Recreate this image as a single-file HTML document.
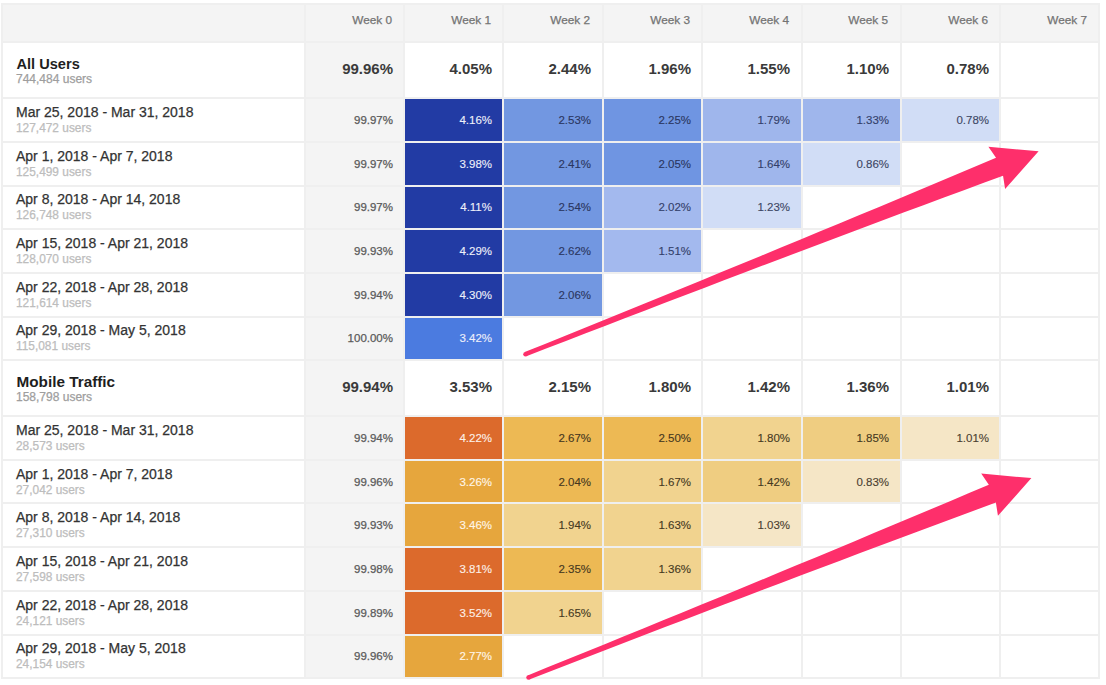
<!DOCTYPE html>
<html><head><meta charset="utf-8"><style>
html,body{margin:0;padding:0;background:#fff;}
body{width:1106px;height:685px;position:relative;overflow:hidden;font-family:"Liberation Sans",sans-serif;}
div{position:absolute;}
.r{text-align:right;white-space:nowrap;-webkit-text-stroke:0.25px currentColor;}
.l{white-space:nowrap;-webkit-text-stroke:0.25px currentColor;}
.hd{font-size:11.8px;color:#737373;}
.tot{font-size:15px;font-weight:bold;color:#3a3a3a;-webkit-text-stroke:0;}
.gl{font-size:14.8px;font-weight:bold;color:#1e1e1e;-webkit-text-stroke:0;}
.gu{font-size:12px;color:#9e9e9e;}
.dl{font-size:14px;color:#333;}
.du{font-size:11.9px;color:#bdbdbd;}
.w0{font-size:11.5px;color:#5a5a5a;}
.v{font-size:11.5px;-webkit-text-stroke:0.12px currentColor;}
</style></head><body>

<div style="left:1px;top:3px;width:1097px;height:38px;background:#f4f4f4"></div>
<div style="left:304px;top:41px;width:99px;height:636px;background:#f4f4f4"></div>
<div style="left:405px;top:99px;width:97px;height:42px;background:#223ba4"></div>
<div style="left:504px;top:99px;width:98px;height:42px;background:#7297e1"></div>
<div style="left:604px;top:99px;width:97px;height:42px;background:#6f95e2"></div>
<div style="left:703px;top:99px;width:98px;height:42px;background:#9fb6ec"></div>
<div style="left:803px;top:99px;width:97px;height:42px;background:#9fb6ec"></div>
<div style="left:902px;top:99px;width:97px;height:42px;background:#d1ddf6"></div>
<div style="left:405px;top:143px;width:97px;height:42px;background:#223ba4"></div>
<div style="left:504px;top:143px;width:98px;height:42px;background:#7297e1"></div>
<div style="left:604px;top:143px;width:97px;height:42px;background:#6f95e2"></div>
<div style="left:703px;top:143px;width:98px;height:42px;background:#9fb6ec"></div>
<div style="left:803px;top:143px;width:97px;height:42px;background:#d1ddf6"></div>
<div style="left:405px;top:187px;width:97px;height:41px;background:#223ba4"></div>
<div style="left:504px;top:187px;width:98px;height:41px;background:#7297e1"></div>
<div style="left:604px;top:187px;width:97px;height:41px;background:#a3b9ee"></div>
<div style="left:703px;top:187px;width:98px;height:41px;background:#d1ddf6"></div>
<div style="left:405px;top:230px;width:97px;height:42px;background:#223ba4"></div>
<div style="left:504px;top:230px;width:98px;height:42px;background:#7297e1"></div>
<div style="left:604px;top:230px;width:97px;height:42px;background:#a3b9ee"></div>
<div style="left:405px;top:274px;width:97px;height:42px;background:#223ba4"></div>
<div style="left:504px;top:274px;width:98px;height:42px;background:#7297e1"></div>
<div style="left:405px;top:318px;width:97px;height:41px;background:#4b7be0"></div>
<div style="left:405px;top:417px;width:97px;height:42px;background:#dc6a2c"></div>
<div style="left:504px;top:417px;width:98px;height:42px;background:#edb954"></div>
<div style="left:604px;top:417px;width:97px;height:42px;background:#edb954"></div>
<div style="left:703px;top:417px;width:98px;height:42px;background:#f1d38f"></div>
<div style="left:803px;top:417px;width:97px;height:42px;background:#efcd81"></div>
<div style="left:902px;top:417px;width:97px;height:42px;background:#f5e6c6"></div>
<div style="left:405px;top:461px;width:97px;height:41px;background:#e6a63d"></div>
<div style="left:504px;top:461px;width:98px;height:41px;background:#edb954"></div>
<div style="left:604px;top:461px;width:97px;height:41px;background:#f1d38f"></div>
<div style="left:703px;top:461px;width:98px;height:41px;background:#efcd81"></div>
<div style="left:803px;top:461px;width:97px;height:41px;background:#f5e6c6"></div>
<div style="left:405px;top:504px;width:97px;height:42px;background:#e6a63d"></div>
<div style="left:504px;top:504px;width:98px;height:42px;background:#f1d38f"></div>
<div style="left:604px;top:504px;width:97px;height:42px;background:#f1d38f"></div>
<div style="left:703px;top:504px;width:98px;height:42px;background:#f5e6c6"></div>
<div style="left:405px;top:548px;width:97px;height:42px;background:#dc6a2c"></div>
<div style="left:504px;top:548px;width:98px;height:42px;background:#edb954"></div>
<div style="left:604px;top:548px;width:97px;height:42px;background:#f1d38f"></div>
<div style="left:405px;top:592px;width:97px;height:42px;background:#dc6a2c"></div>
<div style="left:504px;top:592px;width:98px;height:42px;background:#f1d38f"></div>
<div style="left:405px;top:636px;width:97px;height:41px;background:#e6a63d"></div>
<div style="left:1px;top:3px;width:1099px;height:2px;background:#efefef"></div>
<div style="left:1px;top:41px;width:1099px;height:2px;background:#efefef"></div>
<div style="left:1px;top:97px;width:1099px;height:2px;background:#efefef"></div>
<div style="left:1px;top:141px;width:1099px;height:2px;background:#efefef"></div>
<div style="left:1px;top:185px;width:1099px;height:2px;background:#efefef"></div>
<div style="left:1px;top:228px;width:1099px;height:2px;background:#efefef"></div>
<div style="left:1px;top:272px;width:1099px;height:2px;background:#efefef"></div>
<div style="left:1px;top:316px;width:1099px;height:2px;background:#efefef"></div>
<div style="left:1px;top:359px;width:1099px;height:2px;background:#efefef"></div>
<div style="left:1px;top:415px;width:1099px;height:2px;background:#efefef"></div>
<div style="left:1px;top:459px;width:1099px;height:2px;background:#efefef"></div>
<div style="left:1px;top:502px;width:1099px;height:2px;background:#efefef"></div>
<div style="left:1px;top:546px;width:1099px;height:2px;background:#efefef"></div>
<div style="left:1px;top:590px;width:1099px;height:2px;background:#efefef"></div>
<div style="left:1px;top:634px;width:1099px;height:2px;background:#efefef"></div>
<div style="left:1px;top:677px;width:1099px;height:2px;background:#efefef"></div>
<div style="left:1px;top:3px;width:2px;height:676px;background:#efefef"></div>
<div style="left:304px;top:3px;width:2px;height:676px;background:#efefef"></div>
<div style="left:403px;top:3px;width:2px;height:676px;background:#efefef"></div>
<div style="left:502px;top:3px;width:2px;height:676px;background:#efefef"></div>
<div style="left:602px;top:3px;width:2px;height:676px;background:#efefef"></div>
<div style="left:701px;top:3px;width:2px;height:676px;background:#efefef"></div>
<div style="left:801px;top:3px;width:2px;height:676px;background:#efefef"></div>
<div style="left:900px;top:3px;width:2px;height:676px;background:#efefef"></div>
<div style="left:999px;top:3px;width:2px;height:676px;background:#efefef"></div>
<div style="left:1098px;top:3px;width:2px;height:676px;background:#efefef"></div>
<div class="r hd" style="left:304px;width:88px;top:12.5px;line-height:14px">Week 0</div>
<div class="r hd" style="left:404px;width:87px;top:12.5px;line-height:14px">Week 1</div>
<div class="r hd" style="left:503px;width:87px;top:12.5px;line-height:14px">Week 2</div>
<div class="r hd" style="left:602px;width:88px;top:12.5px;line-height:14px">Week 3</div>
<div class="r hd" style="left:702px;width:87px;top:12.5px;line-height:14px">Week 4</div>
<div class="r hd" style="left:801px;width:87px;top:12.5px;line-height:14px">Week 5</div>
<div class="r hd" style="left:900px;width:88px;top:12.5px;line-height:14px">Week 6</div>
<div class="r hd" style="left:1000px;width:87px;top:12.5px;line-height:14px">Week 7</div>
<div class="l gl" style="left:16.5px;top:56px;line-height:16px;font-size:14.6px">All Users</div>
<div class="l gu" style="left:16px;top:73px;line-height:13px">744,484 users</div>
<div class="r tot" style="left:304px;width:89px;top:61px;line-height:16px">99.96%</div>
<div class="r tot" style="left:404px;width:88px;top:61px;line-height:16px">4.05%</div>
<div class="r tot" style="left:503px;width:88px;top:61px;line-height:16px">2.44%</div>
<div class="r tot" style="left:602px;width:89px;top:61px;line-height:16px">1.96%</div>
<div class="r tot" style="left:702px;width:88px;top:61px;line-height:16px">1.55%</div>
<div class="r tot" style="left:801px;width:88px;top:61px;line-height:16px">1.10%</div>
<div class="r tot" style="left:900px;width:89px;top:61px;line-height:16px">0.78%</div>
<div class="l dl" style="left:16px;top:105px;line-height:15px">Mar 25, 2018 - Mar 31, 2018</div>
<div class="l du" style="left:16px;top:122px;line-height:13px">127,472 users</div>
<div class="r w0" style="left:304px;width:89px;top:113px;line-height:14px">99.97%</div>
<div class="r v" style="left:404px;width:88px;top:113px;line-height:14px;color:#eef0fa">4.16%</div>
<div class="r v" style="left:503px;width:88px;top:113px;line-height:14px;color:#2a3660">2.53%</div>
<div class="r v" style="left:602px;width:89px;top:113px;line-height:14px;color:#2a3660">2.25%</div>
<div class="r v" style="left:702px;width:88px;top:113px;line-height:14px;color:#33406a">1.79%</div>
<div class="r v" style="left:801px;width:88px;top:113px;line-height:14px;color:#33406a">1.33%</div>
<div class="r v" style="left:900px;width:89px;top:113px;line-height:14px;color:#3c4664">0.78%</div>
<div class="l dl" style="left:16px;top:149px;line-height:15px">Apr 1, 2018 - Apr 7, 2018</div>
<div class="l du" style="left:16px;top:166px;line-height:13px">125,499 users</div>
<div class="r w0" style="left:304px;width:89px;top:157px;line-height:14px">99.97%</div>
<div class="r v" style="left:404px;width:88px;top:157px;line-height:14px;color:#eef0fa">3.98%</div>
<div class="r v" style="left:503px;width:88px;top:157px;line-height:14px;color:#2a3660">2.41%</div>
<div class="r v" style="left:602px;width:89px;top:157px;line-height:14px;color:#2a3660">2.05%</div>
<div class="r v" style="left:702px;width:88px;top:157px;line-height:14px;color:#33406a">1.64%</div>
<div class="r v" style="left:801px;width:88px;top:157px;line-height:14px;color:#3c4664">0.86%</div>
<div class="l dl" style="left:16px;top:192px;line-height:15px">Apr 8, 2018 - Apr 14, 2018</div>
<div class="l du" style="left:16px;top:209px;line-height:13px">126,748 users</div>
<div class="r w0" style="left:304px;width:89px;top:200px;line-height:14px">99.97%</div>
<div class="r v" style="left:404px;width:88px;top:200px;line-height:14px;color:#eef0fa">4.11%</div>
<div class="r v" style="left:503px;width:88px;top:200px;line-height:14px;color:#2a3660">2.54%</div>
<div class="r v" style="left:602px;width:89px;top:200px;line-height:14px;color:#33406a">2.02%</div>
<div class="r v" style="left:702px;width:88px;top:200px;line-height:14px;color:#3c4664">1.23%</div>
<div class="l dl" style="left:16px;top:236px;line-height:15px">Apr 15, 2018 - Apr 21, 2018</div>
<div class="l du" style="left:16px;top:253px;line-height:13px">128,070 users</div>
<div class="r w0" style="left:304px;width:89px;top:244px;line-height:14px">99.93%</div>
<div class="r v" style="left:404px;width:88px;top:244px;line-height:14px;color:#eef0fa">4.29%</div>
<div class="r v" style="left:503px;width:88px;top:244px;line-height:14px;color:#2a3660">2.62%</div>
<div class="r v" style="left:602px;width:89px;top:244px;line-height:14px;color:#33406a">1.51%</div>
<div class="l dl" style="left:16px;top:280px;line-height:15px">Apr 22, 2018 - Apr 28, 2018</div>
<div class="l du" style="left:16px;top:297px;line-height:13px">121,614 users</div>
<div class="r w0" style="left:304px;width:89px;top:288px;line-height:14px">99.94%</div>
<div class="r v" style="left:404px;width:88px;top:288px;line-height:14px;color:#eef0fa">4.30%</div>
<div class="r v" style="left:503px;width:88px;top:288px;line-height:14px;color:#2a3660">2.06%</div>
<div class="l dl" style="left:16px;top:323px;line-height:15px">Apr 29, 2018 - May 5, 2018</div>
<div class="l du" style="left:16px;top:340px;line-height:13px">115,081 users</div>
<div class="r w0" style="left:304px;width:89px;top:331px;line-height:14px">100.00%</div>
<div class="r v" style="left:404px;width:88px;top:331px;line-height:14px;color:#eef0fa">3.42%</div>
<div class="l gl" style="left:16.5px;top:374px;line-height:16px;font-size:15.3px">Mobile Traffic</div>
<div class="l gu" style="left:16px;top:391px;line-height:13px">158,798 users</div>
<div class="r tot" style="left:304px;width:89px;top:379px;line-height:16px">99.94%</div>
<div class="r tot" style="left:404px;width:88px;top:379px;line-height:16px">3.53%</div>
<div class="r tot" style="left:503px;width:88px;top:379px;line-height:16px">2.15%</div>
<div class="r tot" style="left:602px;width:89px;top:379px;line-height:16px">1.80%</div>
<div class="r tot" style="left:702px;width:88px;top:379px;line-height:16px">1.42%</div>
<div class="r tot" style="left:801px;width:88px;top:379px;line-height:16px">1.36%</div>
<div class="r tot" style="left:900px;width:89px;top:379px;line-height:16px">1.01%</div>
<div class="l dl" style="left:16px;top:423px;line-height:15px">Mar 25, 2018 - Mar 31, 2018</div>
<div class="l du" style="left:16px;top:440px;line-height:13px">28,573 users</div>
<div class="r w0" style="left:304px;width:89px;top:431px;line-height:14px">99.94%</div>
<div class="r v" style="left:404px;width:88px;top:431px;line-height:14px;color:#fdf0e8">4.22%</div>
<div class="r v" style="left:503px;width:88px;top:431px;line-height:14px;color:#45371e">2.67%</div>
<div class="r v" style="left:602px;width:89px;top:431px;line-height:14px;color:#45371e">2.50%</div>
<div class="r v" style="left:702px;width:88px;top:431px;line-height:14px;color:#45391f">1.80%</div>
<div class="r v" style="left:801px;width:88px;top:431px;line-height:14px;color:#45391f">1.85%</div>
<div class="r v" style="left:900px;width:89px;top:431px;line-height:14px;color:#4a4030">1.01%</div>
<div class="l dl" style="left:16px;top:467px;line-height:15px">Apr 1, 2018 - Apr 7, 2018</div>
<div class="l du" style="left:16px;top:484px;line-height:13px">27,042 users</div>
<div class="r w0" style="left:304px;width:89px;top:475px;line-height:14px">99.96%</div>
<div class="r v" style="left:404px;width:88px;top:475px;line-height:14px;color:#fff6e8">3.26%</div>
<div class="r v" style="left:503px;width:88px;top:475px;line-height:14px;color:#45371e">2.04%</div>
<div class="r v" style="left:602px;width:89px;top:475px;line-height:14px;color:#45391f">1.67%</div>
<div class="r v" style="left:702px;width:88px;top:475px;line-height:14px;color:#45391f">1.42%</div>
<div class="r v" style="left:801px;width:88px;top:475px;line-height:14px;color:#4a4030">0.83%</div>
<div class="l dl" style="left:16px;top:510px;line-height:15px">Apr 8, 2018 - Apr 14, 2018</div>
<div class="l du" style="left:16px;top:527px;line-height:13px">27,310 users</div>
<div class="r w0" style="left:304px;width:89px;top:518px;line-height:14px">99.93%</div>
<div class="r v" style="left:404px;width:88px;top:518px;line-height:14px;color:#fff6e8">3.46%</div>
<div class="r v" style="left:503px;width:88px;top:518px;line-height:14px;color:#45391f">1.94%</div>
<div class="r v" style="left:602px;width:89px;top:518px;line-height:14px;color:#45391f">1.63%</div>
<div class="r v" style="left:702px;width:88px;top:518px;line-height:14px;color:#4a4030">1.03%</div>
<div class="l dl" style="left:16px;top:554px;line-height:15px">Apr 15, 2018 - Apr 21, 2018</div>
<div class="l du" style="left:16px;top:571px;line-height:13px">27,598 users</div>
<div class="r w0" style="left:304px;width:89px;top:562px;line-height:14px">99.98%</div>
<div class="r v" style="left:404px;width:88px;top:562px;line-height:14px;color:#fdf0e8">3.81%</div>
<div class="r v" style="left:503px;width:88px;top:562px;line-height:14px;color:#45371e">2.35%</div>
<div class="r v" style="left:602px;width:89px;top:562px;line-height:14px;color:#45391f">1.36%</div>
<div class="l dl" style="left:16px;top:598px;line-height:15px">Apr 22, 2018 - Apr 28, 2018</div>
<div class="l du" style="left:16px;top:615px;line-height:13px">24,121 users</div>
<div class="r w0" style="left:304px;width:89px;top:606px;line-height:14px">99.89%</div>
<div class="r v" style="left:404px;width:88px;top:606px;line-height:14px;color:#fdf0e8">3.52%</div>
<div class="r v" style="left:503px;width:88px;top:606px;line-height:14px;color:#45391f">1.65%</div>
<div class="l dl" style="left:16px;top:641px;line-height:15px">Apr 29, 2018 - May 5, 2018</div>
<div class="l du" style="left:16px;top:658px;line-height:13px">24,154 users</div>
<div class="r w0" style="left:304px;width:89px;top:649px;line-height:14px">99.96%</div>
<div class="r v" style="left:404px;width:88px;top:649px;line-height:14px;color:#fff6e8">2.77%</div>
<svg width="1106" height="685" style="position:absolute;left:0;top:0">
<path d="M524.67,352.11 L544.37,344.17 L564.07,336.22 L583.76,328.25 L603.45,320.28 L623.13,312.28 L642.80,304.28 L662.47,296.26 L682.14,288.23 L701.79,280.18 L721.45,272.12 L741.10,264.05 L760.74,255.96 L780.38,247.86 L800.01,239.75 L819.63,231.62 L839.25,223.48 L858.87,215.33 L878.48,207.16 L898.09,198.98 L917.69,190.78 L937.28,182.57 L956.87,174.35 L976.45,166.11 L996.03,157.86 L988.41,146.74 L1038.60,151.30 L1005.10,188.96 L1003.05,175.63 L983.13,183.00 L963.21,190.38 L943.29,197.78 L923.39,205.19 L903.48,212.62 L883.58,220.06 L863.69,227.51 L843.80,234.98 L823.92,242.46 L804.04,249.95 L784.17,257.46 L764.30,264.98 L744.44,272.52 L724.59,280.07 L704.74,287.63 L684.89,295.20 L665.05,302.79 L645.22,310.39 L625.39,318.01 L605.57,325.64 L585.75,333.28 L565.94,340.94 L546.13,348.61 L526.33,356.29 Z" fill="#fe2f6b"/><circle cx="525.5" cy="354.2" r="2.25" fill="#fe2f6b"/>
<path d="M527.67,675.41 L546.95,667.62 L566.22,659.81 L585.49,652.00 L604.75,644.17 L624.00,636.32 L643.25,628.46 L662.50,620.59 L681.74,612.71 L700.97,604.81 L720.20,596.90 L739.42,588.97 L758.64,581.03 L777.85,573.08 L797.06,565.11 L816.26,557.13 L835.46,549.14 L854.65,541.13 L873.84,533.11 L893.02,525.08 L912.19,517.03 L931.36,508.97 L950.52,500.89 L969.68,492.80 L988.84,484.70 L981.20,473.58 L1031.40,478.10 L997.94,515.79 L995.88,502.46 L976.38,509.68 L956.88,516.92 L937.39,524.17 L917.90,531.44 L898.42,538.72 L878.95,546.01 L859.48,553.32 L840.02,560.64 L820.56,567.97 L801.11,575.31 L781.66,582.68 L762.22,590.05 L742.78,597.44 L723.35,604.84 L703.92,612.25 L684.50,619.68 L665.09,627.12 L645.68,634.58 L626.27,642.04 L606.87,649.53 L587.48,657.02 L568.09,664.53 L548.71,672.06 L529.33,679.59 Z" fill="#fe2f6b"/><circle cx="528.5" cy="677.5" r="2.25" fill="#fe2f6b"/>
</svg>
</body></html>
